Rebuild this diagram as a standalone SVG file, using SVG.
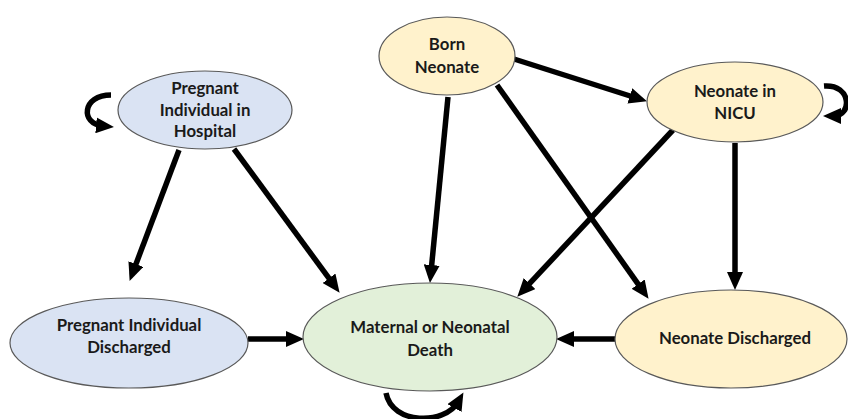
<svg xmlns="http://www.w3.org/2000/svg" width="848" height="419" viewBox="0 0 848 419">
<defs>
<marker id="ah" viewBox="0 0 18 16" refX="7" refY="8" markerWidth="18" markerHeight="16" markerUnits="userSpaceOnUse" orient="auto">
<path d="M0,0 L18,8 L0,16 z" fill="#000"/>
</marker>
</defs>
<style>
.n{stroke:#595959;stroke-width:1.2}
.blue{fill:#dae3f3}
.yel{fill:#fff2cc}
.grn{fill:#e2f0d9}
.t{font-family:Lato,"Liberation Sans",sans-serif;font-weight:bold;font-size:16.8px;fill:#1a1a1a;text-anchor:middle}
.e{fill:none;stroke:#000;stroke-width:5.5;marker-end:url(#ah)}
</style>
<rect width="848" height="419" fill="#fff"/>
<g id="connectors">
<path class="e" d="M179,150 L133.5,270.6"/>
<path class="e" d="M234,149 L333.1,283.9"/>
<path class="e" d="M448,97 L431,272"/>
<path class="e" d="M514,59 L636.5,98"/>
<path class="e" d="M497,85 L642.2,289.8"/>
<path class="e" d="M673,130 L524.8,288.7"/>
<path class="e" d="M735,143 L735,279"/>
<path class="e" d="M615,339 L567,339"/>
<path class="e" d="M248,339 L293,339"/>
<path class="e" d="M111,95 C82,95 80,124 103,126"/>
<path class="e" d="M824,86 C852,84 852,116 834,116"/>
<path class="e" d="M386,393 C392,425 445,425 458,402"/>
</g>
<g id="pih">
<ellipse class="n blue" cx="205" cy="110" rx="87" ry="39"/>
<text class="t" x="205" y="94">Pregnant</text>
<text class="t" x="205" y="116">Individual in</text>
<text class="t" x="205" y="137">Hospital</text>
</g>
<g id="born">
<ellipse class="n yel" cx="447" cy="56" rx="68" ry="39"/>
<text class="t" x="447" y="50">Born</text>
<text class="t" x="447" y="73">Neonate</text>
</g>
<g id="nicu">
<ellipse class="n yel" cx="735" cy="102" rx="88" ry="40"/>
<text class="t" x="735" y="97">Neonate in</text>
<text class="t" x="735" y="119">NICU</text>
</g>
<g id="pid">
<ellipse class="n blue" cx="129" cy="343" rx="119" ry="45"/>
<text class="t" x="129" y="331">Pregnant Individual</text>
<text class="t" x="129" y="353">Discharged</text>
</g>
<g id="death">
<ellipse class="n grn" cx="430" cy="337" rx="127" ry="54"/>
<text class="t" x="430" y="333">Maternal or Neonatal</text>
<text class="t" x="430" y="356">Death</text>
</g>
<g id="nd">
<ellipse class="n yel" cx="731" cy="339" rx="116" ry="49"/>
<text class="t" x="735" y="344">Neonate Discharged</text>
</g>
</svg>
